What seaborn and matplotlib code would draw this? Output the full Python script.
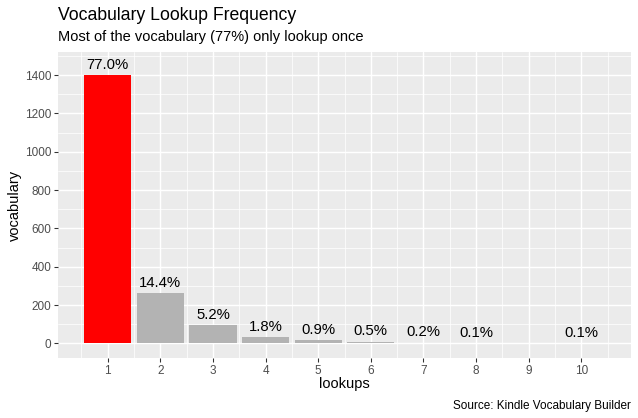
import matplotlib
matplotlib.use("Agg")
import matplotlib.pyplot as plt
import seaborn as sns
import pandas as pd
from matplotlib.ticker import FixedLocator

lookups = [1, 2, 3, 4, 5, 6, 7, 8, 10]
vocabulary = [1400, 262, 95, 33, 16, 9, 4, 2, 1]
pct_labels = ["77.0%", "14.4%", "5.2%", "1.8%", "0.9%", "0.5%", "0.2%", "0.1%", "0.1%"]
group = ["top", "other", "other", "other", "other", "other", "other", "other", "other"]
x_ticks = [1, 2, 3, 4, 5, 6, 7, 8, 9, 10]
y_ticks = [0, 200, 400, 600, 800, 1000, 1200, 1400]

title = "Vocabulary Lookup Frequency"
subtitle = "Most of the vocabulary (77%) only lookup once"
caption = "Source: Kindle Vocabulary Builder"

df = pd.DataFrame({"lookups": lookups, "vocabulary": vocabulary,
                   "label": pct_labels, "group": group})

sns.set_theme(style="darkgrid")
plt.rcParams["font.family"] = ["Liberation Sans", "DejaVu Sans"]

W, H, DPI = 638, 418, 96
fig = plt.figure(figsize=(W / DPI, H / DPI), dpi=DPI)
fig.patch.set_facecolor("white")
L, R, T, B = 58, 631, 52, 358
ax = fig.add_axes([L / W, 1 - B / H, (R - L) / W, (B - T) / H])

sns.barplot(data=df, x="lookups", y="vocabulary", hue="group",
            palette={"top": "#FF0000", "other": "#B3B3B3"},
            native_scale=True, width=0.9, dodge=False, legend=False,
            saturation=1, ax=ax, zorder=3, linewidth=0, edgecolor="none")

for xv, yv, lab in zip(lookups, vocabulary, pct_labels):
    ax.annotate(lab, (xv, yv), xytext=(0, 2.5), textcoords="offset points",
                ha="center", va="bottom", fontsize=11.2, color="black", zorder=4)

ax.set_facecolor("#EBEBEB")
ax.set_xlim(0.055, 10.945)
ax.set_ylim(-76, 1520)
ax.xaxis.set_major_locator(FixedLocator(x_ticks))
ax.xaxis.set_minor_locator(FixedLocator([v + 0.5 for v in range(0, 11)]))
ax.yaxis.set_major_locator(FixedLocator(y_ticks))
ax.yaxis.set_minor_locator(FixedLocator([-100 + 200 * i for i in range(9)]))
ax.set_xticklabels([str(v) for v in x_ticks])
ax.set_yticklabels([str(v) for v in y_ticks])
ax.grid(which="major", color="white", linewidth=1.07, zorder=0)
ax.grid(which="minor", color="white", linewidth=0.53, zorder=0)
ax.set_axisbelow(True)
for s in ax.spines.values():
    s.set_visible(False)
ax.tick_params(which="major", length=2.75, width=0.8, color="#333333",
               labelsize=8.8, labelcolor="#4D4D4D", pad=2.2)
ax.tick_params(which="minor", length=0)
ax.tick_params(axis="x", bottom=True)
ax.tick_params(axis="y", left=True)
ax.set_xlabel("")
ax.set_ylabel("")

fig.text((L + R) / 2 / W, 1 - 388 / H, "lookups", ha="center", va="baseline",
         fontsize=11, color="black")
fig.text(14.5 / W, 1 - ((T + B) / 2) / H, "vocabulary", ha="center", va="center",
         rotation=90, fontsize=11, color="black")
fig.text(L / W, 1 - 19.5 / H, title, ha="left", va="baseline", fontsize=13.2, color="black")
fig.text(L / W, 1 - 41.5 / H, subtitle, ha="left", va="baseline", fontsize=11, color="black")
fig.text(630.7 / W, 1 - 409 / H, caption, ha="right", va="baseline", fontsize=8.8, color="black")

fig.savefig("out.png", dpi=DPI)
